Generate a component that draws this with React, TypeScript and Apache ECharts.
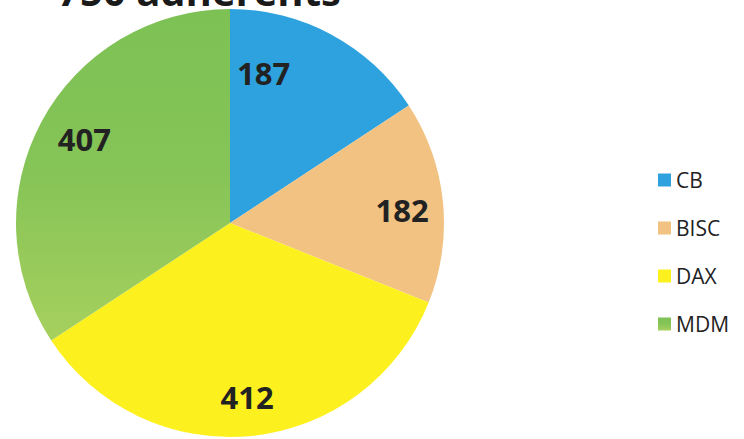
import React, { useEffect, useRef } from "react";
import * as echarts from "echarts";

const titleText = "750 adhérents";
const categories = ["CB", "BISC", "DAX", "MDM"];
const values = [187, 182, 412, 407];
const colors = [
  "#2EA2DF",
  "#F1C282",
  "#FDF01F",
  new echarts.graphic.LinearGradient(0, 0, 0, 1, [
    { offset: 0, color: "#7DC155" },
    { offset: 0.5, color: "#86C457" },
    { offset: 1, color: "#A6D05E" },
  ]),
];
const labelShift = [
  { dx: -47, dy: 0 },
  { dx: 3, dy: 4 },
  { dx: 0, dy: 5 },
  { dx: 4, dy: -3 },
];

export default function App() {
  const ref = useRef<HTMLDivElement>(null);
  useEffect(() => {
    const chart = echarts.init(ref.current!, null, { renderer: "svg" });
    const data = categories.map((name, i) => ({
      name,
      value: values[i],
      itemStyle: { color: colors[i] },
    }));
    chart.setOption({
      animation: false,
      backgroundColor: "#ffffff",
      graphic: [
        {
          type: "text",
          x: 199,
          y: 10,
          style: {
            text: titleText,
            fontSize: 40,
            fontWeight: "bold",
            fontFamily: "Open Sans",
            fill: "#1a1a1a",
            textAlign: "center",
            textVerticalAlign: "bottom",
          },
        },
      ],
      legend: {
        orient: "vertical",
        left: 653,
        top: 164,
        itemWidth: 13,
        itemHeight: 13,
        itemGap: 26,
        icon: "rect",
        textStyle: {
          fontSize: 21,
          lineHeight: 22,
          color: "#222",
          fontFamily: "Open Sans",
        },
        data: categories,
      },
      series: [
        {
          type: "pie",
          center: [230, 223],
          radius: [0, 214],
          startAngle: 90,
          clockwise: true,
          label: { show: false },
          labelLine: { show: false },
          itemStyle: { borderWidth: 0 },
          emphasis: { disabled: true },
          data,
        },
        {
          type: "pie",
          center: [230, 223],
          radius: [120, 214],
          startAngle: 90,
          clockwise: true,
          silent: true,
          legendHoverLink: false,
          itemStyle: { color: "transparent", borderWidth: 0 },
          label: {
            show: true,
            position: "inside",
            formatter: "{c}",
            fontSize: 31,
            fontWeight: "bold",
            fontFamily: "Open Sans",
            color: "#222",
          },
          labelLine: { show: false },
          labelLayout: (p: any) => labelShift[p.dataIndex] || {},
          emphasis: { disabled: true },
          data: categories.map((name, i) => ({ name: name + " ", value: values[i] })),
        },
      ],
    });
    return () => chart.dispose();
  }, []);
  return (
    <div
      ref={ref}
      style={{ position: "absolute", left: 0, top: 0, width: 744, height: 439 }}
    />
  );
}
